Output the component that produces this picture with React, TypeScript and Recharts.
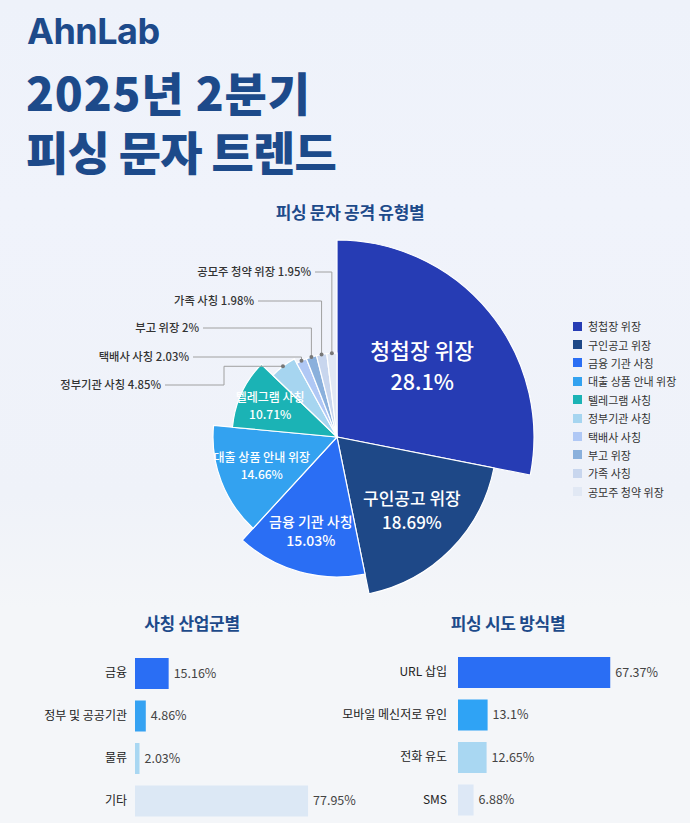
import { Bar, BarChart, Cell, LabelList, Pie, PieChart, XAxis, YAxis } from "recharts";

const FONT = "'Noto Sans CJK KR', 'Noto Sans', sans-serif";
const NAVY = "#1d4a8a";

// 피싱 문자 공격 유형별 (%)
const attackTypes = [
  "청첩장 위장",
  "구인공고 위장",
  "금융 기관 사칭",
  "대출 상품 안내 위장",
  "텔레그램 사칭",
  "정부기관 사칭",
  "택배사 사칭",
  "부고 위장",
  "가족 사칭",
  "공모주 청약 위장",
];
const attackShares = [28.1, 18.69, 15.03, 14.66, 10.71, 4.85, 2.03, 2, 1.98, 1.95];

// 사칭 산업군별 (%)
const industries = ["금융", "정부 및 공공기관", "물류", "기타"];
const industryShares = [15.16, 4.86, 2.03, 77.95];

// 피싱 시도 방식별 (%)
const methods = ["URL 삽입", "모바일 메신저로 유인", "전화 유도", "SMS"];
const methodShares = [67.37, 13.1, 12.65, 6.88];

// slice styling
const sliceColors = [
  "#263cb4",
  "#1e4887",
  "#2a6ef4",
  "#33a2f0",
  "#1bb3b5",
  "#a6d5f0",
  "#b0c8f5",
  "#8ab0dc",
  "#c8d6ee",
  "#e1e8f4",
];
const sliceRadius = [197, 160, 140, 124, 105, 89, 84, 84, 84, 84];

// text inside the five big slices
const innerLabels = [
  { size: 21.5, r: 0.56 },
  { size: 17, r: 0.66 },
  { size: 14, r: 0.7 },
  { size: 12, r: 0.65 },
  { size: 12, r: 0.7 },
];

// callouts for the thin slices (offsets from the pie centre)
const callouts: Record<number, { row: number; end: number; elbow?: number }> = {
  5: { row: -52, end: -172, elbow: -113 },
  6: { row: -80, end: -144 },
  7: { row: -109, end: -134 },
  8: { row: -136, end: -79 },
  9: { row: -165, end: -22 },
};

const industryColors = ["#2a6ef4", "#35a2f2", "#a9d7f2", "#dce8f5"];
const methodColors = ["#2a6ef4", "#2fa3f5", "#a9d7f2", "#dde8f6"];

const attackData = attackTypes.map((name, i) => ({ name, value: attackShares[i] }));
const industryData = industries.map((name, i) => ({ name, value: industryShares[i] }));
const methodData = methods.map((name, i) => ({ name, value: methodShares[i] }));

const RAD = Math.PI / 180;

const sliceLabel = (i: number) => (props: any) => {
  if (props.index !== i) return null;
  const { cx, cy, midAngle, outerRadius } = props;
  const name = attackTypes[i];
  const share = attackShares[i];
  const inner = innerLabels[i];
  if (inner) {
    const r = outerRadius * inner.r;
    const x = cx + r * Math.cos(-midAngle * RAD);
    const y = cy + r * Math.sin(-midAngle * RAD);
    return (
      <g>
        <text
          x={x}
          y={y - inner.size * 0.7}
          dy="0.35em"
          fill="#fff"
          textAnchor="middle"
          fontSize={inner.size}
          fontFamily={FONT}
          fontWeight={500}
        >
          {name}
        </text>
        <text
          x={x}
          y={y + inner.size * 0.7}
          dy="0.35em"
          fill="#fff"
          textAnchor="middle"
          fontSize={inner.size}
          fontFamily={FONT}
          fontWeight={500}
        >
          {share}%
        </text>
      </g>
    );
  }
  const c = callouts[i];
  const px = cx + outerRadius * Math.cos(-midAngle * RAD);
  const py = cy + outerRadius * Math.sin(-midAngle * RAD);
  const rowY = cy + c.row;
  const endX = cx + c.end;
  const points =
    c.elbow !== undefined
      ? `${px},${py} ${cx + c.elbow},${py} ${cx + c.elbow},${rowY} ${endX},${rowY}`
      : `${px},${py} ${px},${rowY} ${endX},${rowY}`;
  return (
    <g>
      <polyline points={points} fill="none" stroke="#a0a0a0" strokeWidth={1} />
      <circle cx={px} cy={py} r={2} fill="#777" />
      <text
        x={endX - 4}
        y={rowY}
        dy="0.35em"
        textAnchor="end"
        fontSize={11.3}
        fill="#333"
        fontFamily={FONT}
        fontWeight={500}
      >
        {name} {share}%
      </text>
    </g>
  );
};

const CategoryTick = (props: any) => (
  <text
    x={props.x}
    y={props.y}
    dy="0.35em"
    textAnchor="end"
    fontSize={12}
    fill="#222"
    fontFamily={FONT}
  >
    {props.payload.value}
  </text>
);

const sectionTitle = (text: string, centerX: number, top: number) => (
  <div
    style={{
      position: "absolute",
      left: centerX - 150,
      top,
      width: 300,
      textAlign: "center",
      fontSize: 17,
      fontWeight: 700,
      color: NAVY,
      letterSpacing: -0.3,
      lineHeight: 1,
    }}
  >
    {text}
  </div>
);

const HBarChart = ({
  data,
  colors,
  left,
  top,
  width,
  axisWidth,
  rightPad,
  tickMargin,
}: {
  data: { name: string; value: number }[];
  colors: string[];
  left: number;
  top: number;
  width: number;
  axisWidth: number;
  rightPad: number;
  tickMargin: number;
}) => (
  <div style={{ position: "absolute", left, top }}>
    <BarChart
      width={width}
      height={170}
      data={data}
      layout="vertical"
      margin={{ top: 0, right: rightPad, bottom: 0, left: 0 }}
      barCategoryGap={6}
    >
      <XAxis type="number" domain={[0, 100]} hide />
      <YAxis
        type="category"
        dataKey="name"
        width={axisWidth}
        axisLine={false}
        tickLine={false}
        tickMargin={tickMargin}
        tick={<CategoryTick />}
      />
      <Bar dataKey="value" isAnimationActive={false}>
        {data.map((d, i) => (
          <Cell key={d.name} fill={colors[i]} />
        ))}
        <LabelList
          dataKey="value"
          position="right"
          offset={5}
          formatter={(v: any) => `${v}%`}
          style={{ fontSize: 12.5, fill: "#444", fontFamily: FONT }}
        />
      </Bar>
    </BarChart>
  </div>
);

export default function App() {
  return (
    <div
      style={{
        position: "absolute",
        left: 0,
        top: 0,
        width: 690,
        height: 823,
        overflow: "hidden",
        fontFamily: FONT,
        background:
          "linear-gradient(180deg, #eef2fa 0%, #f0f3fb 25%, #eff2f9 60%, #f4f6f9 74%, #f4f6f9 100%)",
      }}
    >
      <div
        style={{
          position: "absolute",
          left: 27,
          top: 13,
          fontFamily: "Inter, 'Noto Sans', sans-serif",
          fontSize: 36,
          fontWeight: 700,
          color: NAVY,
          letterSpacing: -0.5,
          lineHeight: 1,
        }}
      >
        AhnLab
      </div>
      <div
        style={{
          position: "absolute",
          left: 26,
          top: 61.5,
          fontSize: 46,
          fontWeight: 900,
          color: NAVY,
          lineHeight: "59px",
          whiteSpace: "nowrap",
        }}
      >
        <span style={{ letterSpacing: 0.8 }}>2025년 2분기</span>
        <br />
        <span style={{ letterSpacing: -0.8 }}>피싱 문자 트렌드</span>
      </div>

      {sectionTitle("피싱 문자 공격 유형별", 350, 203)}

      <div style={{ position: "absolute", left: 0, top: 190 }}>
        <PieChart width={560} height={420} margin={{ top: 0, right: 0, bottom: 0, left: 0 }}>
          {attackData.map((_, i) => (
            <Pie
              key={i}
              data={attackData}
              dataKey="value"
              nameKey="name"
              cx={337}
              cy={247}
              innerRadius={0}
              outerRadius={sliceRadius[i]}
              startAngle={90}
              endAngle={-270}
              isAnimationActive={false}
              labelLine={false}
              label={sliceLabel(i)}
              legendType="none"
            >
              {attackData.map((d, j) => (
                <Cell
                  key={d.name}
                  fill={j === i ? sliceColors[j] : "none"}
                  stroke={j === i ? "#fff" : "none"}
                  strokeWidth={1.2}
                />
              ))}
            </Pie>
          ))}
        </PieChart>
      </div>

      <div style={{ position: "absolute", left: 573, top: 317 }}>
        {attackTypes.map((name, i) => (
          <div
            key={name}
            style={{ display: "flex", alignItems: "center", height: 18.4 }}
          >
            <span
              style={{
                width: 9,
                height: 9,
                background: sliceColors[i],
                marginRight: 6,
                display: "inline-block",
              }}
            />
            <span style={{ fontSize: 11, color: "#333" }}>{name}</span>
          </div>
        ))}
      </div>

      {sectionTitle("사칭 산업군별", 192, 614)}
      {sectionTitle("피싱 시도 방식별", 508, 614)}

      <HBarChart
        data={industryData}
        colors={industryColors}
        left={0}
        top={652}
        width={380}
        axisWidth={135}
        rightPad={23}
        tickMargin={2}
      />
      <HBarChart
        data={methodData}
        colors={methodColors}
        left={330}
        top={651}
        width={360}
        axisWidth={128}
        rightPad={6}
        tickMargin={5}
      />
    </div>
  );
}
